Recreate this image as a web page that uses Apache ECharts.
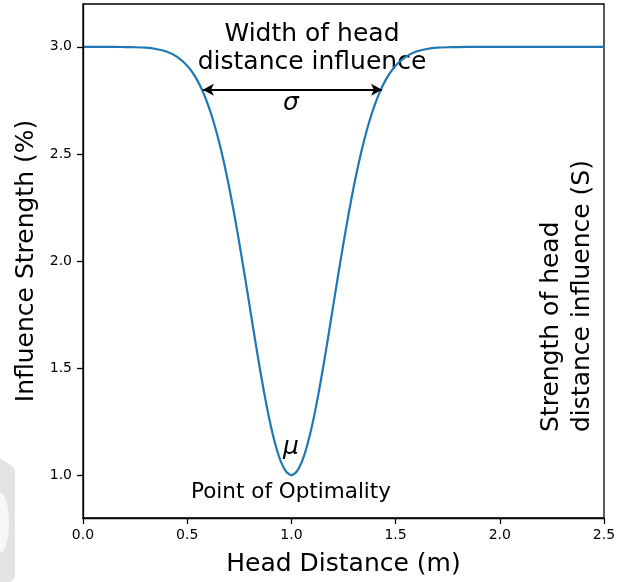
<!DOCTYPE html>
<html>
<head>
<meta charset="utf-8">
<script src="https://cdn.jsdelivr.net/npm/echarts@6/dist/echarts.min.js"></script>
<style>
  html, body { margin: 0; padding: 0; background: #fff; }
  #chart { width: 635px; height: 582px; }
</style>
</head>
<body>
<div id="chart"></div>
<script>
// values
const headDistance = [
  0.00, 0.05, 0.10, 0.15, 0.20, 0.25, 0.30, 0.35, 0.40, 0.45,
  0.50, 0.525, 0.55, 0.575, 0.60, 0.625, 0.65, 0.675, 0.70, 0.725,
  0.75, 0.775, 0.80, 0.825, 0.85, 0.875, 0.90, 0.925, 0.95, 0.975,
  1.00, 1.025, 1.05, 1.075, 1.10, 1.125, 1.15, 1.175, 1.20, 1.225,
  1.25, 1.275, 1.30, 1.325, 1.35, 1.375, 1.40, 1.425, 1.45, 1.475,
  1.50, 1.55, 1.60, 1.65, 1.70, 1.75, 1.80, 1.90, 2.00, 2.25, 2.50
];
const strength = [
  3.000, 3.000, 3.000, 3.000, 2.999, 2.998, 2.996, 2.990, 2.978, 2.954,
  2.912, 2.881, 2.841, 2.791, 2.729, 2.655, 2.567, 2.466, 2.351, 2.223,
  2.084, 1.938, 1.787, 1.636, 1.490, 1.355, 1.235, 1.136, 1.062, 1.016,
  1.000, 1.016, 1.062, 1.136, 1.235, 1.355, 1.490, 1.636, 1.787, 1.938,
  2.084, 2.223, 2.351, 2.466, 2.567, 2.655, 2.729, 2.791, 2.841, 2.881,
  2.912, 2.954, 2.978, 2.990, 2.996, 2.998, 2.999, 3.000, 3.000, 3.000, 3.000
];
const yTicks = [1.0, 1.5, 2.0, 2.5, 3.0];
const widthArrow = [[0.575, 2.8], [1.435, 2.8]];

const font = 'DejaVu Sans';
const chart = echarts.init(document.getElementById('chart'));

const option = {
  animation: false,
  textStyle: { fontFamily: font },
  grid: { left: 83, top: 4, right: 31, bottom: 61, show: true, borderColor: '#000', borderWidth: 1.3 },
  xAxis: {
    type: 'value', min: 0, max: 2.5, interval: 0.5, z: 10,
    name: 'Head Distance (m)', nameLocation: 'middle', nameGap: 34,
    nameTextStyle: { fontSize: 25, color: '#000' },
    axisLine: { show: true, lineStyle: { color: '#000', width: 1.3 } },
    axisTick: { show: true, inside: false, length: 6, lineStyle: { color: '#000', width: 1.3, opacity: 1 } },
    axisLabel: { fontSize: 14, color: '#000', margin: 10, formatter: v => v.toFixed(1) },
    splitLine: { show: false }
  },
  yAxis: {
    type: 'value', min: 0.8, max: 3.2, z: 10,
    name: 'Influence Strength (%)', nameLocation: 'middle', nameGap: 42,
    nameTextStyle: { fontSize: 25, color: '#000' },
    axisLine: { show: true, lineStyle: { color: '#000', width: 1.3 } },
    axisTick: { show: true, inside: false, length: 6, customValues: yTicks, lineStyle: { color: '#000', width: 1.3, opacity: 1 } },
    axisLabel: { fontSize: 14, color: '#000', margin: 11, customValues: yTicks, formatter: v => v.toFixed(1) },
    splitLine: { show: false }
  },
  series: [{
    type: 'line',
    data: headDistance.map((x, i) => [x, strength[i]]),
    showSymbol: false,
    smooth: 0.2,
    lineStyle: { color: '#1f77b4', width: 2.2 },
    markLine: {
      silent: true,
      symbol: ['arrow', 'arrow'],
      symbolSize: [9, 11],
      label: { show: false },
      lineStyle: { color: '#000', width: 2, type: 'solid' },
      data: [[{ coord: widthArrow[0] }, { coord: widthArrow[1] }]]
    }
  }],
  graphic: [
    { type: 'polygon', z: -1, shape: { points: [[0, 458], [12, 466], [15, 470], [15, 578], [10, 582], [0, 582]] }, style: { fill: '#e3e3e3' } },
    { type: 'circle', z: -1, x: 0, y: 523, scaleX: 0.3, shape: { cx: 0, cy: 0, r: 30 }, style: { fill: '#f7f7f7' } },
    { type: 'text', x: 312, y: 48, style: { text: 'Width of head\ndistance influence', font: '25px "DejaVu Sans"', fill: '#000', align: 'center', verticalAlign: 'middle', lineHeight: 28 } },
    { type: 'text', x: 291, y: 103, style: { text: 'σ', font: 'italic 25px "DejaVu Sans"', fill: '#000', align: 'center', verticalAlign: 'middle' } },
    { type: 'text', x: 291, y: 447, style: { text: 'μ', font: 'italic 25px "DejaVu Sans"', fill: '#000', align: 'center', verticalAlign: 'middle' } },
    { type: 'text', x: 291, y: 492, style: { text: 'Point of Optimality', font: '21.5px "DejaVu Sans"', fill: '#000', align: 'center', verticalAlign: 'middle' } },
    { type: 'text', x: 567, y: 432, rotation: Math.PI / 2, style: { text: 'Strength of head\ndistance influence (S)', font: '25px "DejaVu Sans"', fill: '#000', align: 'left', verticalAlign: 'middle', lineHeight: 31 } }
  ]
};
chart.setOption(option);
</script>
</body>
</html>
